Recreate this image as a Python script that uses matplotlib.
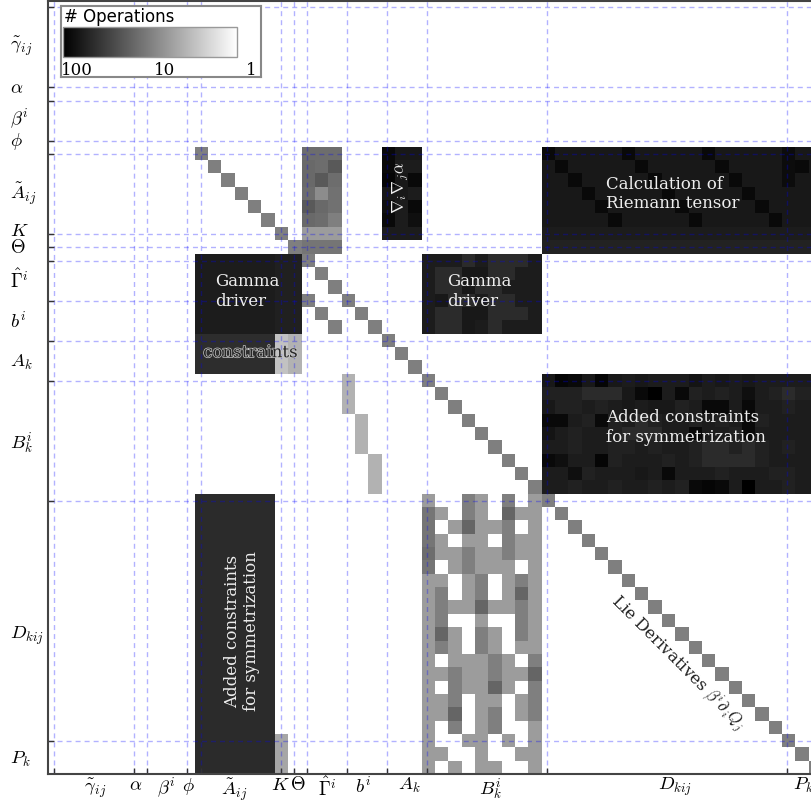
import numpy as np
import matplotlib
matplotlib.use("Agg")
import matplotlib.pyplot as plt
import matplotlib.patheffects as pe
from matplotlib.colors import LogNorm
from matplotlib.transforms import ScaledTranslation, blended_transform_factory

plt.rcParams["mathtext.fontset"] = "cm"
plt.rcParams["font.family"] = "DejaVu Serif"

# evolved fields and their number of components
var_names = ["gt", "alpha", "beta", "phi", "At", "K", "Theta", "Gam", "b", "A", "B", "D", "P"]
var_labels = [r"$\tilde{\gamma}_{ij}$", r"$\alpha$", r"$\beta^i$", r"$\phi$", r"$\tilde{A}_{ij}$",
              r"$K$", r"$\Theta$", r"$\hat{\Gamma}^i$", r"$b^i$", r"$A_k$", r"$B_k^i$",
              r"$D_{kij}$", r"$P_k$"]
var_sizes = [6, 1, 3, 1, 6, 1, 1, 3, 3, 3, 9, 18, 3]

# label positions along each axis (matrix index units)
xlabel_pos = [3.1, 6.1, 8.4, 10.1, 13.5, 16.95, 18.3, 20.5, 23.2, 26.6, 32.7, 46.6, 56.2]
ylabel_pos = [2.6, 5.9, 8.1, 9.8, 13.7, 16.6, 17.9, 20.3, 23.4, 26.4, 32.4, 46.8, 56.2]

# number of operations per (equation, variable) entry
lie_ops = 10                       # advection term beta^i d_i Q on the diagonal
b_gamma_ops = [10, 10, 10]         # b^i equations <- Gamma^i
At_gamma_ops = [[14, 14, 14],
                [15, 14, 20],
                [15, 20, 14],
                [14, 8, 13],
                [20, 15, 13],
                [15, 14, 10]]
K_gamma_ops = [6, 6, 6]
Theta_gamma_ops = [12, 12, 12]
B_b_ops = [4, 4, 4]                # B_k^i equations <- b^i (3 rows each)
A_const_ops = [44, 44, 44, 44, 44, 44, 3, 4]
D_const_ops = [46, 46, 46, 46, 46, 46]
P_K_ops = [5, 5, 5]

lapse_ops = [[83, 63, 63],
             [83, 60, 60],
             [91, 63, 83],
             [63, 63, 60],
             [76, 60, 83],
             [83, 60, 76],
             [60, 60, 60]]

gamma_driver_left = [[60, 60, 60, 60, 60, 60, 56, 56],
                     [60, 60, 60, 60, 60, 60, 56, 56],
                     [60, 60, 60, 60, 60, 60, 56, 56],
                     [60, 60, 60, 60, 60, 60, 56, 56],
                     [60, 60, 60, 60, 60, 60, 56, 56],
                     [60, 60, 60, 60, 60, 60, 56, 56]]

gamma_driver_right = [[60, 60, 60, 46, 60, 46, 46, 46, 60],
                      [60, 46, 46, 63, 63, 46, 46, 60, 60],
                      [60, 46, 46, 63, 46, 46, 60, 60, 60],
                      [60, 63, 46, 46, 60, 46, 46, 60, 60],
                      [60, 46, 46, 63, 63, 46, 46, 46, 60],
                      [60, 46, 46, 63, 60, 46, 60, 60, 60]]

riemann_ops = [
    [83, 63, 63, 63, 63, 63, 83, 63, 63, 63, 63, 63, 83, 63, 63, 63, 63, 63, 80, 63, 63],
    [63, 83, 63, 63, 63, 63, 63, 83, 63, 63, 63, 63, 63, 83, 63, 63, 63, 63, 80, 83, 63],
    [63, 63, 83, 63, 63, 63, 63, 63, 83, 63, 63, 63, 63, 63, 83, 63, 63, 63, 80, 63, 63],
    [63, 63, 63, 83, 63, 63, 63, 63, 63, 83, 63, 63, 63, 63, 63, 83, 63, 63, 63, 63, 63],
    [63, 63, 63, 63, 83, 63, 63, 63, 63, 63, 83, 63, 63, 63, 63, 63, 83, 63, 63, 63, 63],
    [63, 63, 63, 63, 63, 83, 63, 63, 63, 63, 63, 83, 63, 63, 63, 63, 63, 83, 63, 63, 63],
    [60, 60, 60, 60, 60, 60, 60, 60, 60, 60, 60, 60, 60, 60, 60, 60, 60, 60, 60, 60, 60],
    [53, 53, 53, 53, 53, 53, 53, 53, 53, 53, 53, 53, 53, 53, 53, 53, 53, 53, 53, 53, 53],
]

B_sym_ops = [
    [63, 91, 83, 63, 91, 63, 60, 63, 60, 60, 60, 69, 60, 63, 60, 63, 60, 60, 60, 60, 60],
    [54, 54, 54, 46, 46, 46, 63, 83, 100, 60, 83, 54, 60, 54, 60, 76, 60, 54, 46, 54, 54],
    [63, 54, 54, 60, 54, 60, 63, 60, 63, 63, 54, 60, 83, 83, 60, 83, 60, 60, 54, 60, 60],
    [83, 83, 60, 54, 83, 54, 60, 46, 54, 60, 60, 54, 60, 54, 60, 83, 54, 60, 60, 60, 60],
    [69, 60, 54, 60, 60, 54, 46, 46, 46, 60, 60, 83, 60, 60, 54, 83, 60, 60, 60, 60, 60],
    [60, 60, 54, 60, 60, 54, 54, 60, 54, 60, 60, 54, 46, 46, 54, 46, 54, 60, 54, 60, 60],
    [83, 76, 60, 60, 91, 54, 60, 60, 60, 54, 60, 54, 46, 46, 46, 46, 54, 60, 60, 60, 60],
    [60, 60, 76, 54, 60, 60, 60, 63, 60, 83, 60, 60, 60, 54, 60, 60, 60, 54, 54, 60, 60],
    [60, 60, 54, 60, 60, 54, 60, 60, 54, 60, 54, 83, 91, 83, 60, 100, 60, 60, 54, 60, 60],
]

D_B_ops = [
    [6, 0, 0, 10, 6, 0, 10, 0, 6],
    [12, 6, 0, 10, 6, 0, 16, 6, 6],
    [12, 0, 6, 16, 6, 6, 10, 0, 6],
    [12, 6, 0, 6, 6, 0, 10, 6, 6],
    [14, 6, 6, 10, 6, 6, 10, 6, 6],
    [12, 0, 6, 10, 6, 6, 6, 0, 6],
    [6, 6, 0, 6, 10, 0, 6, 10, 6],
    [6, 10, 0, 6, 10, 0, 6, 16, 6],
    [6, 10, 6, 6, 16, 6, 6, 10, 6],
    [6, 10, 0, 0, 6, 0, 0, 10, 6],
    [6, 16, 6, 0, 10, 6, 0, 10, 6],
    [6, 10, 6, 0, 10, 6, 0, 6, 6],
    [6, 0, 6, 6, 6, 10, 6, 0, 10],
    [6, 6, 10, 6, 6, 10, 6, 6, 16],
    [6, 0, 10, 6, 6, 16, 6, 0, 10],
    [6, 6, 10, 0, 6, 6, 0, 6, 10],
    [6, 6, 16, 0, 6, 10, 0, 6, 10],
    [6, 0, 10, 0, 6, 10, 0, 0, 6],
    [6, 0, 0, 6, 6, 0, 6, 0, 6],
    [6, 6, 0, 0, 6, 0, 0, 6, 6],
    [6, 0, 6, 0, 6, 6, 0, 0, 6],
]

# ---- assemble the matrix ----
starts = np.concatenate([[0], np.cumsum(var_sizes)[:-1]])
start = dict(zip(var_names, starts))
size = dict(zip(var_names, var_sizes))
n = int(np.sum(var_sizes))


def rows(a, b=None):
    b = b or a
    return slice(start[a], start[b] + size[b])


ops = np.zeros((n, n))
idx = np.arange(start["At"], n)
ops[idx, idx] = lie_ops
g0, b0 = start["Gam"], start["b"]
for i, v in enumerate(b_gamma_ops):
    ops[b0 + i, g0 + i] = v
ops[rows("At"), rows("Gam")] = At_gamma_ops
ops[start["K"], rows("Gam")] = K_gamma_ops
ops[start["Theta"], rows("Gam")] = Theta_gamma_ops
for i, v in enumerate(B_b_ops):
    ops[start["B"] + 3 * i:start["B"] + 3 * i + 3, b0 + i] = v
ops[rows("A"), rows("At", "Theta")] = A_const_ops
ops[rows("D", "P"), rows("At")] = D_const_ops
ops[rows("P"), start["K"]] = P_K_ops
ops[rows("At", "K"), rows("A")] = lapse_ops
ops[rows("Gam", "b"), rows("At", "Theta")] = gamma_driver_left
ops[rows("Gam", "b"), rows("B")] = gamma_driver_right
ops[rows("At", "Theta"), rows("D", "P")] = riemann_ops
ops[rows("B"), rows("D", "P")] = B_sym_ops
ops[rows("D", "P"), rows("B")] = D_B_ops

# ---- figure ----
W, H = 811, 800
fig = plt.figure(figsize=(W / 100, H / 100), dpi=100)
cell = 773.3 / n
ax = fig.add_axes([47.5 / W, 26 / H, n * cell / W, n * cell / H])

norm = LogNorm(vmin=1, vmax=100)
im = ax.imshow(np.ma.masked_equal(ops, 0), cmap="gray_r", norm=norm,
               interpolation="nearest", aspect="auto")

ax.xaxis.remove_overlapping_locs = False
ax.yaxis.remove_overlapping_locs = False
ax.set_xticks(starts)
ax.set_yticks(starts)
ax.set_xticklabels([])
ax.set_yticklabels([])
ax.set_xticks(xlabel_pos, labels=var_labels, minor=True)
ax.set_yticks(ylabel_pos, labels=var_labels, minor=True)
ax.tick_params(which="major", direction="in", length=4, width=1, color="#333333")
ax.tick_params(which="minor", length=0, labelsize=13.5)
ax.tick_params(axis="x", which="minor", pad=1.5)
ax.tick_params(axis="y", which="minor", pad=27)
for t in ax.yaxis.get_minorticklabels():
    t.set_horizontalalignment("left")
ax.grid(True, which="major", color="blue", alpha=0.3, lw=1.0, linestyle=(0, (3.6, 2.9)))
for s in ax.spines.values():
    s.set_linewidth(1.5)
    s.set_color("#444444")

# block annotations
white = dict(color="#eeeeee", fontsize=12, ha="center", va="center")
ax.text(14.5, 21.3, "Gamma\ndriver", multialignment="left", **white)
ax.text(31.9, 21.3, "Gamma\ndriver", multialignment="left", **white)
ax.text(26.0, 13.5, r"$\nabla_i\nabla_j\alpha$", rotation=90, **white)
ax.text(46.4, 14.0, "Calculation of\nRiemann tensor", multialignment="left", **white)
ax.text(47.4, 31.5, "Added constraints\nfor symmetrization", multialignment="left", **white)
ax.text(14.1, 46.8, "Added constraints\nfor symmetrization", rotation=90,
        multialignment="center", **white)
ax.text(14.7, 25.9, "constraints", color="#262626", fontsize=12, ha="center", va="center",
        path_effects=[pe.withStroke(linewidth=1.0, foreground="#c8c8c8")])
ax.text(46.8, 49.2, r"Lie Derivatives $\beta^i\partial_i Q_j$", color="#222222", fontsize=12,
        ha="center", va="center", rotation=-45, rotation_mode="anchor")

# colour scale box
box = fig.add_axes([61 / W, 1 - 77 / H, 200 / W, 71 / H])
box.set_xticks([])
box.set_yticks([])
box.set_facecolor("white")
for s in box.spines.values():
    s.set_linewidth(1.5)
    s.set_color("#888888")
fig.text(64 / W, 1 - 22 / H, "# Operations", family="DejaVu Sans", fontsize=12, va="baseline")

cax = fig.add_axes([63.3 / W, 1 - 57.3 / H, 174 / W, 30.6 / H])
cb = fig.colorbar(im, cax=cax, orientation="horizontal")
cax.invert_xaxis()
cax.set_xticks([])
cax.xaxis.set_minor_locator(plt.NullLocator())
cb.outline.set_edgecolor("#999999")
cb.outline.set_linewidth(1.0)
shift = blended_transform_factory(cax.transData, cax.transAxes) + \
    ScaledTranslation(14 / 100, 0, fig.dpi_scale_trans)
for v in [100, 10, 1]:
    cax.text(v, -0.15, str(v), transform=shift, fontsize=12, ha="center", va="top")

fig.savefig("out.png", dpi=100)
